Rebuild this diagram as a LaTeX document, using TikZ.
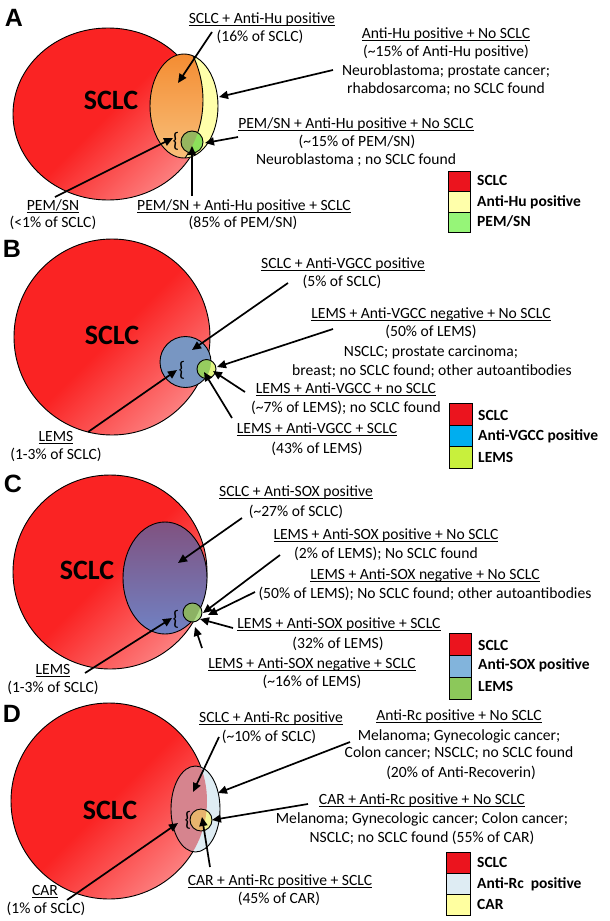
\documentclass[tikz,border=0pt]{standalone}
\usepackage{fontspec}
\setmainfont{Carlito}
\newfontfamily\letterfont{Liberation Sans}
\usetikzlibrary{arrows.meta}

\definecolor{sclcred}{RGB}{250,35,35}
\definecolor{sclcpink}{RGB}{255,218,218}
\definecolor{legred}{RGB}{235,20,30}
\definecolor{huyellow}{RGB}{255,255,170}
\definecolor{huorangeA}{RGB}{244,140,50}
\definecolor{huorangeB}{RGB}{248,192,122}
\definecolor{pembright}{RGB}{140,225,90}
\definecolor{pemolive}{RGB}{150,182,95}
\definecolor{legpem}{RGB}{150,245,120}
\definecolor{vgccblue}{RGB}{120,150,194}
\definecolor{legvgcc}{RGB}{0,174,239}
\definecolor{lemsyel}{RGB}{225,245,130}
\definecolor{lemsgrn}{RGB}{150,205,95}
\definecolor{leglemsB}{RGB}{200,240,60}
\definecolor{soxtop}{RGB}{128,82,128}
\definecolor{soxbot}{RGB}{112,130,196}
\definecolor{legsox}{RGB}{130,180,220}
\definecolor{lemsolive}{RGB}{140,178,100}
\definecolor{lemslight}{RGB}{175,220,135}
\definecolor{leglemsC}{RGB}{140,200,90}
\definecolor{rcpink}{RGB}{214,132,142}
\definecolor{rclight}{RGB}{222,236,243}
\definecolor{carorange}{RGB}{232,180,110}
\definecolor{caryellow}{RGB}{242,242,150}
\definecolor{legcar}{RGB}{255,255,160}

\pgfdeclarehorizontalshading{redfade}{100bp}{color(0bp)=(sclcred); color(50bp)=(sclcred); color(100bp)=(sclcpink)}

\newsavebox\ulinebox
\newcommand\uln[1]{\sbox\ulinebox{#1}\rlap{\rule[-2.6pt]{\wd\ulinebox}{1.1pt}}\usebox\ulinebox}

\begin{document}
\begin{tikzpicture}[x=1pt,y=-1pt,
  txt/.style={font=\fontsize{15.6}{18.5}\selectfont, inner sep=0pt, anchor=mid},
  legtxt/.style={font=\fontsize{15.5}{18.5}\selectfont\bfseries, inner sep=0pt, anchor=mid west},
  bigtxt/.style={font=\fontsize{28}{30}\selectfont\bfseries, inner sep=0pt},
  panel/.style={font=\fontsize{25}{27}\selectfont\letterfont\bfseries, inner sep=0pt},
  brace/.style={font=\fontsize{21}{23}\selectfont, inner sep=0pt},
  outl/.style={draw=black, line width=0.9pt},
  legbox/.style={draw=black, line width=0.9pt},
  arr/.style={line width=1.7pt, -{Triangle[length=9pt,width=8pt]}},
  redcirc/.style={shading=redfade, shading angle=-45}]
\useasboundingbox (0,0) rectangle (610,921);
\fill[white] (0,0) rectangle (610,921);

% ================= PANEL A =================
\node[panel] (pA) at (14,18) {A};
\shade[redcirc] (108,114) ellipse [x radius=95, y radius=86];
\draw[outl] (108,114) ellipse [x radius=95, y radius=86];
\fill[huyellow] (184,106) ellipse [x radius=34, y radius=52];
\begin{scope}
  \clip (100,100) circle [radius=103];
  \shade[top color=huorangeA, bottom color=huorangeB] (184,106) ellipse [x radius=34, y radius=52];
\end{scope}
\begin{scope}
  \clip (184,106) ellipse [x radius=34, y radius=52];
  \draw[outl] (100,100) circle [radius=103];
\end{scope}
\draw[outl] (184,106) ellipse [x radius=34, y radius=52];
\fill[pembright] (192,142) circle [radius=11];
\begin{scope}
  \clip (100,100) circle [radius=103];
  \fill[pemolive] (192,142) circle [radius=11];
\end{scope}
\draw[outl] (192,142) circle [radius=11];
\node[brace] (brA) at (176,141) {\{};
\node[bigtxt] (sclcA) at (111,100) {SCLC};

\node[txt] (tA1) at (262,21) {\uln{SCLC + Anti-Hu positive}};
\node[txt] (tA2) at (260,39) {(16\% of SCLC)};
\node[txt] (tA3) at (446,36) {\uln{Anti-Hu positive + No SCLC}};
\node[txt] (tA4) at (446,54) {(\textasciitilde15\% of Anti-Hu positive)};
\node[txt] (tA5) at (446,73) {Neuroblastoma; prostate cancer;};
\node[txt] (tA6) at (446,91) {rhabdosarcoma; no SCLC found};
\node[txt] (tA7) at (356,126) {\uln{PEM/SN + Anti-Hu positive + No SCLC}};
\node[txt] (tA8) at (357,144) {(\textasciitilde15\% of PEM/SN)};
\node[txt] (tA9) at (356,162) {Neuroblastoma ; no SCLC found};
\node[txt] (tA10) at (53,208) {\uln{PEM/SN}};
\node[txt] (tA11) at (53,225) {(<1\% of SCLC)};
\node[txt] (tA12) at (244,208) {\uln{PEM/SN + Anti-Hu positive + SCLC}};
\node[txt] (tA13) at (243,225) {(85\% of PEM/SN)};

\coordinate (a1s) at (212,32); \coordinate (a1e) at (178,83);
\coordinate (a2s) at (333,70); \coordinate (a2e) at (219,97);
\coordinate (a3s) at (238,137); \coordinate (a3e) at (205,143);
\coordinate (a4s) at (55,197); \coordinate (a4e) at (173,138);
\coordinate (a5s) at (192,196); \coordinate (a5e) at (192,146);
\draw[arr] (a1s) -- (a1e);
\draw[arr] (a2s) -- (a2e);
\draw[arr] (a3s) -- (a3e);
\draw[arr] (a4s) -- (a4e);
\draw[arr] (a5s) -- (a5e);

\draw[legbox, fill=legred] (448,171) rectangle (470,191.5);
\draw[legbox, fill=huyellow] (448,191.5) rectangle (470,212);
\draw[legbox, fill=legpem] (448,212) rectangle (470,232.5);
\node[legtxt] (lA1) at (477,183) {SCLC};
\node[legtxt] (lA2) at (477,204) {Anti-Hu positive};
\node[legtxt] (lA3) at (477,224) {PEM/SN};

% ================= PANEL B =================
\node[panel] (pB) at (12,249) {B};
\shade[redcirc] (112,337) circle [radius=98];
\draw[outl] (112,337) circle [radius=98];
\fill[vgccblue] (185.5,362) circle [radius=25.5];
\draw[outl] (185.5,362) circle [radius=25.5];
\fill[lemsyel] (206.5,369) circle [radius=9.5];
\begin{scope}
  \clip (185.5,362) circle [radius=25.5];
  \fill[lemsgrn] (206.5,369) circle [radius=9.5];
\end{scope}
\draw[outl] (206.5,369) circle [radius=9.5];
\node[brace] (brB) at (182,370) {\{};
\node[bigtxt] (sclcB) at (112,335) {SCLC};

\node[txt] (tB1) at (343,266) {\uln{SCLC + Anti-VGCC positive}};
\node[txt] (tB2) at (342,284) {(5\% of SCLC)};
\node[txt] (tB3) at (431,316) {\uln{LEMS + Anti-VGCC negative + No SCLC}};
\node[txt] (tB4) at (431,334) {(50\% of LEMS)};
\node[txt] (tB5) at (431,354) {NSCLC; prostate carcinoma;};
\node[txt] (tB6) at (432,373) {breast; no SCLC found; other autoantibodies};
\node[txt] (tB7) at (346,391) {\uln{LEMS + Anti-VGCC + no SCLC}};
\node[txt] (tB8) at (346,410) {(\textasciitilde7\% of LEMS); no SCLC found};
\node[txt] (tB9) at (317,431) {\uln{LEMS + Anti-VGCC + SCLC}};
\node[txt] (tB10) at (317,451) {(43\% of LEMS)};
\node[txt] (tB11) at (56,439) {\uln{LEMS}};
\node[txt] (tB12) at (56,457) {(1-3\% of SCLC)};

\coordinate (b1s) at (288,283); \coordinate (b1e) at (192,350);
\coordinate (b2s) at (333,329); \coordinate (b2e) at (217,367);
\coordinate (b3s) at (245,392); \coordinate (b3e) at (213,371);
\coordinate (b4s) at (232,418); \coordinate (b4e) at (204,372);
\coordinate (b5s) at (88,432); \coordinate (b5e) at (177,370);
\draw[arr] (b1s) -- (b1e);
\draw[arr] (b2s) -- (b2e);
\draw[arr] (b3s) -- (b3e);
\draw[arr] (b4s) -- (b4e);
\draw[arr] (b5s) -- (b5e);

\draw[legbox, fill=legred] (449,403.5) rectangle (472,425);
\draw[legbox, fill=legvgcc] (449,425) rectangle (472,446.5);
\draw[legbox, fill=leglemsB] (449,446.5) rectangle (472,468);
\node[legtxt] (lB1) at (478,418) {SCLC};
\node[legtxt] (lB2) at (478,438.5) {Anti-VGCC positive};
\node[legtxt] (lB3) at (478,460) {LEMS};

% ================= PANEL C =================
\node[panel] (pC) at (13,484) {C};
\shade[redcirc] (110,572) circle [radius=97];
\draw[outl] (110,572) circle [radius=97];
\shade[top color=soxtop, bottom color=soxbot] (165,578) ellipse [x radius=42, y radius=56];
\draw[outl] (165,578) ellipse [x radius=42, y radius=56];
\fill[lemslight] (192.5,612.5) circle [radius=9.5];
\begin{scope}
  \clip (110,572) circle [radius=97];
  \fill[lemsolive] (192.5,612.5) circle [radius=9.5];
\end{scope}
\draw[outl] (192.5,612.5) circle [radius=9.5];
\node[brace] (brC) at (176,619) {\{};
\node[bigtxt] (sclcC) at (87,570) {SCLC};

\node[txt] (tC1) at (296,494) {\uln{SCLC + Anti-SOX positive}};
\node[txt] (tC2) at (296,514) {(\textasciitilde27\% of SCLC)};
\node[txt] (tC3) at (386,537) {\uln{LEMS + Anti-SOX positive + No SCLC}};
\node[txt] (tC4) at (386,556) {(2\% of LEMS); No SCLC found};
\node[txt] (tC5) at (425,577) {\uln{LEMS + Anti-SOX negative + No SCLC}};
\node[txt] (tC6) at (425,596) {(50\% of LEMS); No SCLC found; other autoantibodies};
\node[txt] (tC7) at (339,626) {\uln{LEMS + Anti-SOX positive + SCLC}};
\node[txt] (tC8) at (338,646) {(32\% of LEMS)};
\node[txt] (tC9) at (312,666) {\uln{LEMS + Anti-SOX negative + SCLC}};
\node[txt] (tC10) at (312,684) {(\textasciitilde16\% of LEMS)};
\node[txt] (tC11) at (53,672) {\uln{LEMS}};
\node[txt] (tC12) at (53,690) {(1-3\% of SCLC)};

\coordinate (c1s) at (242,518); \coordinate (c1e) at (178,563);
\coordinate (c2s) at (280,555); \coordinate (c2e) at (203,613);
\coordinate (c3s) at (255,592); \coordinate (c3e) at (208,615);
\coordinate (c4s) at (233,628); \coordinate (c4e) at (200,619);
\coordinate (c5s) at (202,648); \coordinate (c5e) at (195,627);
\coordinate (c6s) at (85,673); \coordinate (c6e) at (172,618);
\draw[arr] (c1s) -- (c1e);
\draw[arr] (c2s) -- (c2e);
\draw[arr] (c3s) -- (c3e);
\draw[arr] (c4s) -- (c4e);
\draw[arr] (c5s) -- (c5e);
\draw[arr] (c6s) -- (c6e);

\draw[legbox, fill=legred] (449,633) rectangle (471,655);
\draw[legbox, fill=legsox] (449,655) rectangle (471,677);
\draw[legbox, fill=leglemsC] (449,677) rectangle (471,699);
\node[legtxt] (lC1) at (478,648) {SCLC};
\node[legtxt] (lC2) at (478,667.5) {Anti-SOX positive};
\node[legtxt] (lC3) at (478,689) {LEMS};

% ================= PANEL D =================
\node[panel] (pD) at (12,714) {D};
\shade[redcirc] (109,801) circle [radius=98];
\draw[outl] (109,801) circle [radius=98];
\fill[rclight] (195.5,809) ellipse [x radius=24.5, y radius=43];
\begin{scope}
  \clip (109,801) circle [radius=98];
  \fill[rcpink] (195.5,809) ellipse [x radius=24.5, y radius=43];
\end{scope}
\draw[outl] (195.5,809) ellipse [x radius=24.5, y radius=43];
\fill[caryellow] (201,820) circle [radius=11];
\begin{scope}
  \clip (109,801) circle [radius=98];
  \fill[carorange] (201,820) circle [radius=11];
\end{scope}
\draw[outl] (201,820) circle [radius=11];
\node[brace] (brD) at (188,820) {\{};
\node[bigtxt] (sclcD) at (110,810) {SCLC};

\node[txt] (tD1) at (271,720) {\uln{SCLC + Anti-Rc positive}};
\node[txt] (tD2) at (269,739) {(\textasciitilde10\% of SCLC)};
\node[txt] (tD3) at (459,718) {\uln{Anti-Rc positive + No SCLC}};
\node[txt] (tD4) at (459,738) {Melanoma; Gynecologic cancer;};
\node[txt] (tD5) at (459,755) {Colon cancer; NSCLC; no SCLC found};
\node[txt] (tD6) at (461,775) {(20\% of Anti-Recoverin)};
\node[txt] (tD7) at (422,802) {\uln{CAR + Anti-Rc positive + No SCLC}};
\node[txt] (tD8) at (422,821) {Melanoma; Gynecologic cancer; Colon cancer;};
\node[txt] (tD9) at (422,840) {NSCLC; no SCLC found (55\% of CAR)};
\node[txt] (tD10) at (280,883) {\uln{CAR + Anti-Rc positive + SCLC}};
\node[txt] (tD11) at (279,901) {(45\% of CAR)};
\node[txt] (tD12) at (45,893) {\uln{CAR}};
\node[txt] (tD13) at (46,911) {(1\% of SCLC)};

\coordinate (d1s) at (219,737); \coordinate (d1e) at (193,792);
\coordinate (d2s) at (350,742); \coordinate (d2e) at (218,793);
\coordinate (d3s) at (308,804); \coordinate (d3e) at (212,820);
\coordinate (d4s) at (210,867); \coordinate (d4e) at (202,817);
\coordinate (d5s) at (67,900); \coordinate (d5e) at (178,823);
\draw[arr] (d1s) -- (d1e);
\draw[arr] (d2s) -- (d2e);
\draw[arr] (d3s) -- (d3e);
\draw[arr] (d4s) -- (d4e);
\draw[arr] (d5s) -- (d5e);

\draw[legbox, fill=legred] (446,852) rectangle (470,873);
\draw[legbox, fill=rclight] (446,873) rectangle (470,894);
\draw[legbox, fill=legcar] (446,894) rectangle (470,915);
\node[legtxt] (lD1) at (477,865) {SCLC};
\node[legtxt] (lD2) at (477,886) {Anti-Rc\ \ positive};
\node[legtxt] (lD3) at (477,907) {CAR};
\end{tikzpicture}
\end{document}
